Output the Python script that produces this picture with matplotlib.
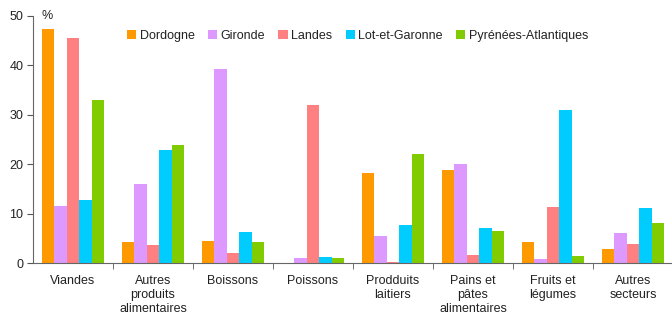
import matplotlib
matplotlib.use("Agg")
import matplotlib.pyplot as plt
import numpy as np

categories = ["Viandes", "Autres\nproduits\nalimentaires", "Boissons", "Poissons",
              "Prodduits\nlaitiers", "Pains et\npâtes\nalimentaires", "Fruits et\nlégumes",
              "Autres\nsecteurs"]
series_names = ["Dordogne", "Gironde", "Landes", "Lot-et-Garonne", "Pyrénées-Atlantiques"]
dordogne = [47.4, 4.2, 4.4, 0.0, 18.2, 18.8, 4.3, 2.9]
gironde = [11.5, 16.0, 39.3, 1.0, 5.5, 20.0, 0.8, 6.0]
landes = [45.6, 3.6, 2.0, 32.0, 0.2, 1.6, 11.3, 3.8]
lot_et_garonne = [12.7, 22.9, 6.3, 1.2, 7.7, 7.1, 31.0, 11.1]
pyrenees_atl = [33.0, 23.9, 4.2, 1.0, 22.1, 6.5, 1.4, 8.1]
colors = ["#FF9900", "#DD99FF", "#FF8080", "#00CCFF", "#80CC00"]
yticks = [0, 10, 20, 30, 40, 50]

plt.rcParams['font.family'] = ['Liberation Sans', 'DejaVu Sans']
fig = plt.figure(figsize=(6.72, 3.15), dpi=100)
ax = fig.add_axes([33/672, 1-263/315, 640/672, (263-16)/315])

data = [dordogne, gironde, landes, lot_et_garonne, pyrenees_atl]
x = np.arange(len(categories))
bw = 0.155
for i, (vals, name, c) in enumerate(zip(data, series_names, colors)):
    ax.bar(x + (i - 2) * bw, vals, width=bw, color=c, label=name, zorder=2)

ax.set_xlim(-0.5, len(categories) - 0.5)
ax.set_ylim(0, 50)
ax.set_yticks(yticks)
ax.set_xticks(x)
ax.set_xticklabels(categories, fontsize=9, color="#222222", linespacing=1.22)
ax.set_xticks(np.arange(0.5, len(categories) - 0.5, 1), minor=True)
ax.tick_params(axis='x', which='major', length=0, pad=8.5)
ax.tick_params(axis='x', which='minor', length=4, color="#555555", direction='out')
ax.tick_params(axis='y', length=4, color="#555555", labelsize=9, labelcolor="#222222", pad=3)
for s in ["top", "right"]:
    ax.spines[s].set_visible(False)
for s in ["left", "bottom"]:
    ax.spines[s].set_color("#666666")
    ax.spines[s].set_zorder(3)

ax.text(0.013, 1.0, "%", transform=ax.transAxes, fontsize=9, color="#222222",
        ha="left", va="center")

fig.legend(loc="center", bbox_to_anchor=(0.532, 1-36/315), ncol=5, frameon=False,
           fontsize=9, handlelength=0.75, handleheight=0.75, handletextpad=0.25,
           columnspacing=1.08, borderpad=0, labelcolor="#222222")

fig.savefig("out.png", dpi=100)
